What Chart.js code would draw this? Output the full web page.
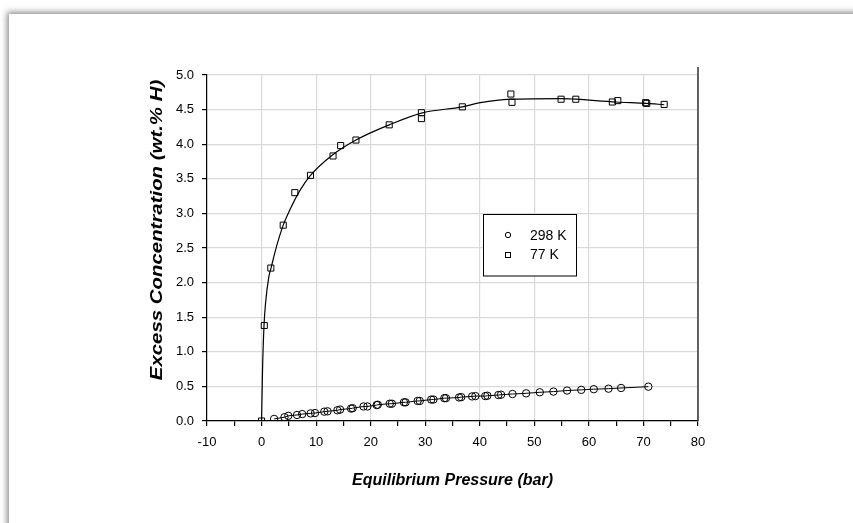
<!DOCTYPE html>
<html>
<head>
<meta charset="utf-8">
<script src="https://cdn.jsdelivr.net/npm/chart.js@4.4.1/dist/chart.umd.min.js"></script>
<style>
  html, body { margin: 0; padding: 0; background: #fff; }
  #wrap { position: relative; width: 853px; height: 523px; overflow: hidden; background: #fff; }
  #frame {
    position: absolute; left: 9px; top: 14px; width: 900px; height: 600px;
    background: #fff; box-shadow: -2px -2px 6px rgba(0, 0, 0, 0.45);
  }
  #chart { position: absolute; left: 0; top: 0; }
</style>
</head>
<body>
<div id="wrap">
  <div id="frame"></div>
  <canvas id="chart" width="853" height="523"></canvas>
</div>
<script>
// 298 K measurements
const p298 = [2.3, 4.2, 4.9, 6.5, 7.45, 9.0, 9.8, 11.5, 12.1, 13.9, 14.4, 16.4, 16.7, 18.7, 19.4,
  21.1, 21.3, 23.5, 23.9, 26.1, 26.4, 28.6, 29.0, 31.1, 31.5, 33.5, 33.8, 36.2, 36.6, 38.6, 39.2,
  41.0, 41.4, 43.4, 43.9, 46.0, 48.5, 51.0, 53.5, 56.0, 58.6, 60.9, 63.6, 65.9, 70.9];
const c298 = [0.03, 0.055, 0.075, 0.087, 0.10, 0.11, 0.115, 0.135, 0.14, 0.155, 0.165, 0.18, 0.185, 0.21, 0.21,
  0.23, 0.235, 0.25, 0.25, 0.27, 0.27, 0.29, 0.29, 0.31, 0.31, 0.33, 0.33, 0.34, 0.345, 0.355, 0.36,
  0.36, 0.365, 0.375, 0.38, 0.39, 0.40, 0.415, 0.425, 0.44, 0.45, 0.46, 0.467, 0.477, 0.496];

// 77 K measurements
const p77 = [0, 0.5, 1.7, 3.97, 6.1, 8.97, 13.1, 14.5, 17.3, 23.4, 29.3, 29.3, 36.8,
  45.7, 45.9, 54.9, 57.6, 64.3, 65.3, 70.4, 70.6, 73.8];
const c77 = [0, 1.38, 2.21, 2.83, 3.30, 3.55, 3.83, 3.98, 4.06, 4.28, 4.455, 4.37, 4.54,
  4.725, 4.605, 4.65, 4.65, 4.61, 4.63, 4.60, 4.59, 4.575];

// 77 K fitted curve
const fitP77 = [0, 0.18, 0.45, 0.73, 1.34, 1.77, 2.56, 3.97, 5.3, 7.1, 8.97, 12.6, 17.3, 23.4,
  29.3, 36.8, 40.1, 45.7, 55.0, 57.6, 65.0, 70.6, 73.8];
const fitC77 = [0, 0.74, 1.38, 1.70, 2.085, 2.22, 2.47, 2.83, 3.07, 3.34, 3.55, 3.82, 4.06, 4.28,
  4.45, 4.54, 4.60, 4.65, 4.66, 4.65, 4.61, 4.59, 4.57];

const legendLabels = ['298 K', '77 K'];
const xTitle = 'Equilibrium Pressure (bar)';
const yTitle = 'Excess Concentration (wt.% H)';

const toPts = (xs, ys) => xs.map((x, i) => ({ x: x, y: ys[i] }));

// titles, right border and the boxed legend
const extras = {
  id: 'extras',
  afterDraw(chart) {
    const ctx = chart.ctx;
    const a = chart.chartArea;
    ctx.save();
    // right frame line
    ctx.strokeStyle = '#333';
    ctx.lineWidth = 1.5;
    ctx.beginPath();
    ctx.moveTo(a.right, a.top - 8);
    ctx.lineTo(a.right, a.bottom);
    ctx.stroke();

    // axis titles
    ctx.fillStyle = '#000';
    ctx.textAlign = 'center';
    ctx.textBaseline = 'middle';
    ctx.font = 'italic bold 16px "Liberation Sans", Arial, sans-serif';
    ctx.fillText(xTitle, (a.left + a.right) / 2, 481);
    ctx.translate(157, 230);
    ctx.rotate(-Math.PI / 2);
    ctx.scale(1.2, 1);  // the source title is drawn a little stretched
    ctx.font = 'italic bold 17px "Liberation Sans", Arial, sans-serif';
    ctx.fillText(yTitle, 0, 0);
    ctx.restore();

    // legend
    ctx.save();
    ctx.fillStyle = '#fff';
    ctx.fillRect(483, 214.5, 94, 61.5);
    ctx.strokeStyle = '#000';
    ctx.lineWidth = 1;
    ctx.strokeRect(483.5, 214.5, 93, 61.5);
    ctx.beginPath();
    ctx.arc(508, 235, 2.7, 0, Math.PI * 2);
    ctx.stroke();
    ctx.strokeRect(505.5, 252.5, 5, 5);
    ctx.fillStyle = '#000';
    ctx.font = '14px "Liberation Sans", Arial, sans-serif';
    ctx.textAlign = 'left';
    ctx.textBaseline = 'middle';
    ctx.fillText(legendLabels[0], 530, 236);
    ctx.fillText(legendLabels[1], 530, 255.5);
    ctx.restore();
  }
};

new Chart(document.getElementById('chart'), {
  type: 'scatter',
  data: {
    datasets: [
      {
        label: legendLabels[0],
        data: toPts(p298, c298),
        showLine: true,
        borderColor: '#000',
        backgroundColor: 'rgba(0,0,0,0)',
        borderWidth: 1,
        pointStyle: 'circle',
        pointRadius: 3.7,
        pointBorderWidth: 1,
        tension: 0
      },
      {
        label: legendLabels[1],
        data: toPts(p77, c77),
        showLine: false,
        borderColor: '#000',
        backgroundColor: 'rgba(0,0,0,0)',
        pointStyle: 'rect',
        pointRadius: 4.3,
        pointBorderWidth: 1
      },
      {
        label: '77 K fit',
        data: toPts(fitP77, fitC77),
        showLine: true,
        borderColor: '#000',
        borderWidth: 1.2,
        pointRadius: 0,
        cubicInterpolationMode: 'monotone'
      }
    ]
  },
  options: {
    responsive: false,
    animation: false,
    layout: { padding: { left: 0, top: 75, right: 155, bottom: 0 } },
    plugins: {
      legend: { display: false },
      tooltip: { enabled: false }
    },
    scales: {
      x: {
        type: 'linear',
        min: -10,
        max: 80,
        afterFit: (s) => { s.height = 102; },
        border: { color: '#000', width: 1.2 },
        grid: {
          color: (c) => (c.tick && c.tick.value % 10 === 0 ? '#d9d9d9' : 'rgba(0,0,0,0)'),
          tickColor: '#000',
          tickLength: 5,
          lineWidth: 1.2
        },
        ticks: {
          stepSize: 5,
          padding: 9,
          color: '#000',
          maxRotation: 0,
          font: { family: '"Liberation Sans", Arial, sans-serif', size: 13 },
          callback: (v) => (v % 10 === 0 ? v : '')
        }
      },
      y: {
        min: 0,
        max: 5,
        afterFit: (s) => { s.width = 207; },
        border: { color: '#000', width: 1.2 },
        grid: {
          color: '#d9d9d9',
          tickColor: '#000',
          tickLength: 5,
          lineWidth: 1.2
        },
        ticks: {
          stepSize: 0.5,
          padding: 8,
          color: '#000',
          font: { family: '"Liberation Sans", Arial, sans-serif', size: 13 },
          callback: (v) => v.toFixed(1)
        }
      }
    }
  },
  plugins: [extras]
});
</script>
</body>
</html>
